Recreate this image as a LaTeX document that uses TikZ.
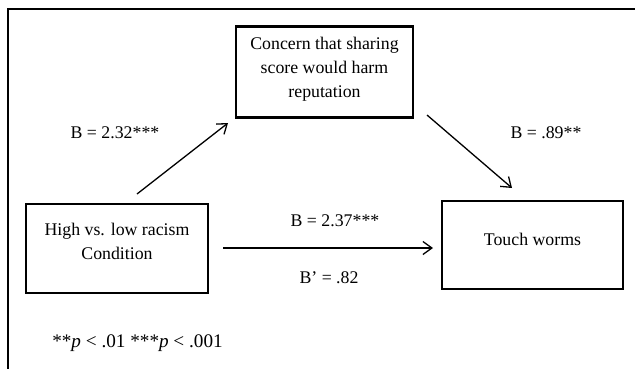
\documentclass[tikz,border=0pt]{standalone}
\usepackage{fontspec}
\setmainfont{Liberation Serif}
\usetikzlibrary{arrows.meta}
\begin{document}
\begin{tikzpicture}[x=1pt,y=-1pt,
  box/.style={draw=black,line width=2.8pt,minimum width=#1,inner sep=0pt},
  txt/.style={font=\fontsize{17.8}{24}\selectfont,align=center,inner sep=0pt},
  conn/.style={line width=1.3pt,-{Straight Barb[length=9pt,width=13pt,line width=1.3pt]}}]
\useasboundingbox (0,0) rectangle (635,368);
% frame
\draw[line width=2.5pt] (8,400) -- (8,9) -- (660,9);
% boxes
\node[box=177pt,minimum height=91pt] (med) at (324.5,72) {};
\node[box=182pt,minimum height=89pt] (iv) at (117,248.5) {};
\node[box=181pt,minimum height=88pt] (dv) at (532.5,245) {};
% box texts
\node[txt] (medt) at (324.5,69.5) {Concern that sharing\\score would harm\\reputation};
\node[txt] (ivt) at (117,241.5) {High vs. low racism\\Condition};
\node[txt] (dvt) at (532.5,239) {Touch worms};
% connector end points
\coordinate (a1s) at (137,194);
\coordinate (a1e) at (228,123);
\coordinate (a2s) at (427,115);
\coordinate (a2e) at (512,188);
\coordinate (a3s) at (223,248);
\coordinate (a3e) at (433,248);
\draw[conn] (a1s) -- (a1e);
\draw[conn] (a2s) -- (a2e);
\draw[conn] (a3s) -- (a3e);
% labels
\node[txt] (l1) at (115,133) {B = 2.32***};
\node[txt] (l2) at (546,133) {B = .89**};
\node[txt] (l3) at (335,221) {B = 2.37***};
\node[txt] (l4) at (329,278) {B’ = .82};
\node[txt,font=\fontsize{19.2}{24}\selectfont] (fn) at (137.5,343) {**\textit{p} < .01 ***\textit{p} < .001};
\end{tikzpicture}
\end{document}
